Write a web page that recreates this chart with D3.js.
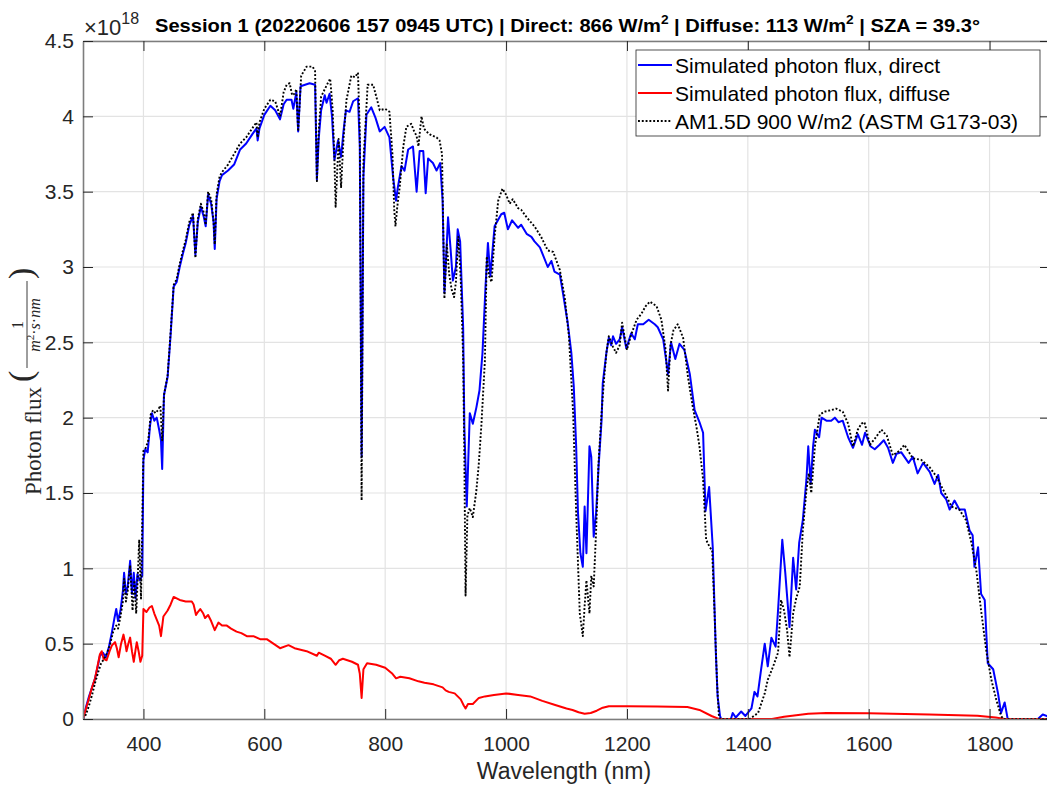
<!DOCTYPE html>
<html>
<head>
<meta charset="utf-8">
<script src="https://cdn.jsdelivr.net/npm/d3@7"></script>
<style>
  body { margin: 0; background: #fff; }
  svg { display: block; font-family: "Liberation Sans", Arial, sans-serif; }
</style>
</head>
<body>
<div id="chart"></div>
<script>
// [wavelength nm, photon flux x1e18]
const directFlux = [
  [300, 0], [305, 0.08], [310, 0.15], [315, 0.21], [320, 0.27], [325, 0.36], [328, 0.42], [333, 0.44],
  [338, 0.41], [343, 0.48], [348, 0.58], [352, 0.67], [355, 0.73], [358, 0.65], [362, 0.72], [366, 0.85],
  [368, 0.97], [371, 0.83], [374, 0.88], [378, 1.05], [381, 0.83], [384, 0.97], [387, 0.80], [390, 0.96],
  [394, 0.92], [398, 0.95], [400, 1.72], [403, 1.79], [407, 1.77], [411, 1.95], [414, 2.03], [418, 1.98],
  [422, 2.0], [426, 1.92], [429, 1.85], [431, 1.66], [434, 2.15], [440, 2.27], [445, 2.55], [450, 2.87],
  [455, 2.90], [460, 3.00], [466, 3.10], [470, 3.16], [476, 3.28], [482, 3.34], [486, 3.08], [490, 3.30],
  [495, 3.40], [500, 3.33], [503, 3.27], [507, 3.48], [512, 3.42], [516, 3.30], [518, 3.12], [521, 3.45],
  [526, 3.57], [530, 3.61], [540, 3.64], [550, 3.68], [560, 3.78], [570, 3.82], [580, 3.88], [587, 3.92],
  [589, 3.84], [592, 3.92], [600, 4.01], [610, 4.07], [618, 4.04], [626, 3.98], [632, 4.08], [637, 4.11],
  [645, 4.11], [648, 4.05], [653, 4.16], [656, 3.90], [660, 4.20], [675, 4.22], [684, 4.21], [687, 3.58],
  [690, 3.85], [694, 4.04], [700, 4.14], [703, 4.09], [708, 4.15], [712, 4.00], [716, 3.71], [722, 3.84],
  [727, 3.73], [731, 3.90], [735, 4.04], [741, 4.03], [747, 4.10], [755, 4.12], [758, 3.80], [761, 1.74],
  [764, 3.60], [769, 4.01], [777, 4.06], [784, 3.99], [791, 3.90], [799, 3.93], [807, 3.86], [813, 3.60],
  [818, 3.44], [821, 3.53], [827, 3.67], [832, 3.64], [838, 3.78], [846, 3.80], [852, 3.50], [857, 3.77],
  [863, 3.77], [867, 3.49], [871, 3.72], [879, 3.69], [885, 3.64], [891, 3.69], [895, 3.44], [898, 2.83],
  [904, 3.33], [908, 3.13], [912, 2.91], [917, 3.00], [920, 3.25], [924, 3.17], [929, 2.60], [931, 1.94],
  [935, 1.41], [940, 2.03], [945, 1.96], [951, 2.07], [956, 2.18], [961, 2.43], [966, 2.87], [970, 3.16],
  [974, 2.94], [981, 3.27], [992, 3.35], [997, 3.36], [1003, 3.25], [1010, 3.31], [1020, 3.26], [1025, 3.28],
  [1034, 3.22], [1042, 3.20], [1047, 3.17], [1056, 3.13], [1061, 3.08], [1069, 3.00], [1075, 3.04], [1080, 2.97],
  [1089, 2.95], [1094, 2.83], [1102, 2.63], [1108, 2.43], [1112, 2.21], [1116, 1.81], [1119, 1.37], [1123, 1.10],
  [1127, 1.01], [1130, 1.41], [1133, 1.10], [1138, 1.81], [1141, 1.74], [1145, 1.21], [1149, 1.37], [1153, 1.67],
  [1158, 1.98], [1160, 2.23], [1166, 2.43], [1170, 2.53], [1174, 2.48], [1177, 2.54], [1182, 2.49], [1188, 2.52],
  [1192, 2.60], [1199, 2.46], [1207, 2.56], [1213, 2.52], [1218, 2.62], [1227, 2.62], [1236, 2.65], [1246, 2.62],
  [1251, 2.60], [1260, 2.52], [1268, 2.29], [1273, 2.50], [1280, 2.39], [1287, 2.49], [1295, 2.45], [1304, 2.29],
  [1312, 2.05], [1320, 1.97], [1326, 1.90], [1330, 1.38], [1336, 1.54], [1342, 1.14], [1347, 0.45], [1350, 0.15],
  [1354, 0.02], [1356, 0], [1372, 0], [1375, 0.04], [1380, 0.01], [1389, 0.05], [1396, 0.02], [1406, 0.07],
  [1411, 0.18], [1416, 0.15], [1422, 0.33], [1428, 0.50], [1433, 0.35], [1439, 0.54], [1446, 0.48], [1450, 0.72],
  [1457, 1.19], [1462, 0.97], [1469, 0.61], [1475, 1.07], [1480, 0.86], [1485, 1.17], [1491, 1.32], [1497, 1.59],
  [1500, 1.81], [1504, 1.56], [1508, 1.81], [1511, 1.92], [1518, 1.87], [1522, 2.00], [1530, 1.98], [1538, 1.98],
  [1544, 2.00], [1550, 1.97], [1557, 1.98], [1566, 1.87], [1574, 1.80], [1582, 1.89], [1589, 1.82], [1594, 1.90],
  [1603, 1.81], [1610, 1.79], [1618, 1.82], [1625, 1.85], [1632, 1.80], [1640, 1.70], [1646, 1.76], [1654, 1.77],
  [1666, 1.70], [1673, 1.74], [1681, 1.63], [1690, 1.70], [1701, 1.64], [1709, 1.56], [1715, 1.62], [1720, 1.50],
  [1728, 1.46], [1734, 1.39], [1742, 1.45], [1750, 1.39], [1759, 1.39], [1767, 1.25], [1772, 1.22], [1775, 1.01],
  [1781, 1.14], [1786, 0.83], [1792, 0.79], [1797, 0.37], [1806, 0.33], [1814, 0.17], [1819, 0.04], [1825, 0.11],
  [1830, 0], [1880, 0], [1888, 0.03], [1895, 0.02], [1900, 0]
];

const diffuseFlux = [
  [300, 0], [305, 0.07], [310, 0.14], [315, 0.21], [320, 0.27], [325, 0.37], [328, 0.43], [331, 0.45],
  [334, 0.40], [339, 0.39], [344, 0.45], [348, 0.49], [353, 0.51], [356, 0.47], [359, 0.41], [363, 0.50],
  [367, 0.56], [370, 0.50], [372, 0.45], [375, 0.50], [378, 0.54], [381, 0.45], [384, 0.38], [387, 0.46],
  [389, 0.51], [392, 0.45], [395, 0.38], [398, 0.42], [400, 0.73], [405, 0.71], [410, 0.74], [414, 0.75],
  [418, 0.70], [422, 0.66], [426, 0.62], [429, 0.55], [433, 0.68], [440, 0.72], [445, 0.76], [450, 0.81],
  [460, 0.79], [470, 0.78], [480, 0.78], [483, 0.76], [487, 0.69], [490, 0.71], [494, 0.73], [499, 0.70],
  [502, 0.67], [507, 0.69], [512, 0.65], [518, 0.59], [524, 0.64], [530, 0.62], [538, 0.62], [545, 0.60],
  [554, 0.58], [562, 0.57], [571, 0.55], [582, 0.55], [593, 0.53], [604, 0.53], [615, 0.50], [626, 0.47],
  [640, 0.49], [650, 0.47], [660, 0.46], [670, 0.45], [687, 0.42], [690, 0.44], [700, 0.42], [710, 0.40],
  [718, 0.36], [724, 0.39], [730, 0.40], [745, 0.38], [755, 0.36], [758, 0.30], [761, 0.14], [764, 0.33],
  [770, 0.37], [785, 0.36], [800, 0.34], [812, 0.30], [818, 0.27], [825, 0.28], [840, 0.27], [855, 0.25],
  [865, 0.24], [880, 0.23], [895, 0.21], [900, 0.19], [905, 0.18], [915, 0.17], [925, 0.13], [930, 0.09],
  [933, 0.07], [937, 0.10], [945, 0.10], [955, 0.14], [965, 0.15], [980, 0.16], [1000, 0.17], [1020, 0.16],
  [1040, 0.15], [1060, 0.12], [1080, 0.095], [1100, 0.07], [1110, 0.06], [1120, 0.045], [1130, 0.035], [1140, 0.04],
  [1150, 0.055], [1160, 0.075], [1170, 0.085], [1200, 0.085], [1250, 0.083], [1300, 0.08], [1320, 0.06], [1340, 0.02],
  [1352, 0], [1440, 0], [1460, 0.015], [1480, 0.025], [1500, 0.035], [1530, 0.04], [1600, 0.038], [1700, 0.03],
  [1780, 0.022], [1810, 0.01], [1825, 0], [1900, 0]
];

const referenceFlux = [
  [300, 0], [305, 0.03], [310, 0.09], [315, 0.16], [320, 0.24], [325, 0.31], [330, 0.37], [335, 0.40],
  [340, 0.44], [345, 0.50], [350, 0.58], [355, 0.62], [358, 0.60], [362, 0.68], [366, 0.78], [368, 0.93],
  [371, 0.78], [374, 0.85], [378, 1.02], [382, 0.72], [385, 0.92], [388, 0.70], [390, 0.88], [393, 1.19],
  [396, 0.80], [398, 1.30], [400, 1.78], [404, 1.80], [408, 1.85], [412, 2.02], [416, 2.05], [420, 2.03],
  [424, 2.05], [428, 2.08], [431, 1.85], [434, 2.15], [440, 2.28], [445, 2.57], [450, 2.88], [455, 2.92],
  [460, 3.02], [466, 3.12], [470, 3.18], [476, 3.30], [482, 3.36], [486, 3.06], [490, 3.32], [495, 3.42],
  [500, 3.36], [503, 3.28], [507, 3.50], [512, 3.45], [516, 3.30], [518, 3.15], [521, 3.48], [526, 3.60],
  [530, 3.63], [540, 3.68], [550, 3.75], [560, 3.82], [570, 3.86], [580, 3.92], [587, 3.96], [589, 3.86],
  [592, 3.96], [600, 4.05], [610, 4.11], [618, 4.10], [626, 4.00], [632, 4.16], [637, 4.21], [642, 4.22],
  [646, 4.14], [650, 4.15], [653, 4.18], [656, 3.90], [661, 4.27], [670, 4.33], [680, 4.33], [684, 4.30],
  [687, 3.57], [690, 3.90], [694, 4.13], [700, 4.18], [705, 4.22], [709, 4.25], [713, 4.05], [716, 3.72],
  [718, 3.40], [723, 3.85], [727, 3.53], [731, 3.85], [736, 4.11], [744, 4.27], [750, 4.26], [755, 4.29],
  [758, 3.90], [761, 1.45], [764, 3.70], [771, 4.21], [780, 4.21], [786, 4.12], [791, 4.04], [800, 4.05],
  [807, 4.03], [812, 3.75], [815, 3.38], [817, 3.27], [820, 3.40], [824, 3.53], [830, 3.80], [835, 3.93],
  [843, 3.95], [848, 3.90], [852, 3.87], [855, 3.80], [860, 4.00], [864, 3.92], [868, 3.90], [874, 3.88],
  [879, 3.87], [885, 3.86], [890, 3.84], [894, 3.75], [898, 2.79], [902, 3.15], [906, 2.95], [910, 2.85],
  [914, 2.80], [917, 2.90], [921, 3.20], [925, 2.92], [929, 2.40], [931, 1.72], [933, 0.82], [936, 1.35],
  [940, 1.40], [945, 1.34], [951, 1.52], [955, 1.70], [959, 1.94], [965, 2.38], [968, 3.07], [972, 2.94],
  [976, 2.90], [981, 3.20], [987, 3.44], [994, 3.52], [1000, 3.48], [1006, 3.42], [1011, 3.45], [1020, 3.39],
  [1025, 3.38], [1034, 3.33], [1047, 3.27], [1058, 3.20], [1069, 3.11], [1078, 3.10], [1089, 2.98], [1097, 2.80],
  [1104, 2.54], [1111, 2.03], [1116, 1.37], [1122, 0.70], [1127, 0.55], [1130, 0.75], [1133, 0.92], [1138, 0.70],
  [1141, 0.95], [1145, 0.88], [1149, 1.25], [1153, 1.70], [1158, 2.03], [1162, 2.25], [1166, 2.43], [1170, 2.54],
  [1177, 2.47], [1182, 2.43], [1188, 2.48], [1192, 2.63], [1200, 2.45], [1207, 2.55], [1216, 2.65], [1224, 2.69],
  [1231, 2.74], [1238, 2.77], [1249, 2.74], [1257, 2.65], [1264, 2.45], [1268, 2.18], [1272, 2.48], [1277, 2.58],
  [1284, 2.62], [1293, 2.53], [1301, 2.27], [1309, 2.07], [1315, 1.94], [1320, 1.81], [1326, 1.59], [1331, 1.19],
  [1337, 1.14], [1341, 1.12], [1345, 0.70], [1349, 0.25], [1352, 0.03], [1354, 0], [1403, 0], [1417, 0.04],
  [1428, 0.17], [1433, 0.26], [1442, 0.35], [1450, 0.44], [1455, 0.79], [1460, 0.72], [1465, 0.59], [1469, 0.41],
  [1475, 0.70], [1480, 0.80], [1486, 0.88], [1491, 1.25], [1497, 1.52], [1501, 1.63], [1505, 1.50], [1511, 1.81],
  [1519, 2.02], [1527, 2.04], [1538, 2.05], [1546, 2.06], [1557, 2.04], [1566, 1.96], [1574, 1.81], [1582, 1.92],
  [1588, 1.96], [1593, 1.97], [1602, 1.82], [1610, 1.86], [1621, 1.92], [1630, 1.88], [1640, 1.75], [1651, 1.78],
  [1659, 1.82], [1673, 1.73], [1687, 1.72], [1701, 1.67], [1712, 1.61], [1726, 1.50], [1737, 1.41], [1750, 1.39],
  [1761, 1.32], [1770, 1.17], [1778, 0.99], [1786, 0.72], [1795, 0.44], [1803, 0.26], [1811, 0.13], [1819, 0.02],
  [1823, 0], [1900, 0]
];

const xTicks = [400, 600, 800, 1000, 1200, 1400, 1600, 1800];
const yTicks = [0, 0.5, 1, 1.5, 2, 2.5, 3, 3.5, 4, 4.5];
const legendNames = [
  "Simulated photon flux, direct",
  "Simulated photon flux, diffuse",
  "AM1.5D 900 W/m2 (ASTM G173-03)"
];

const series = [
  { name: legendNames[0], values: directFlux, color: "#0000ff", width: 2, dash: null },
  { name: legendNames[1], values: diffuseFlux, color: "#ff0000", width: 2, dash: null },
  { name: legendNames[2], values: referenceFlux, color: "#000000", width: 1.9, dash: "1.9,1.9" }
];

const W = 1047, H = 787;
const box = { left: 83, right: 1050, top: 41, bottom: 719 };

const svg = d3.select("#chart")
  .append("svg")
  .attr("width", W)
  .attr("height", H);

const x = d3.scaleLinear().domain([300, 1900]).range([box.left, box.right]);
const y = d3.scaleLinear().domain([0, 4.5]).range([box.bottom, box.top]);

// grid
svg.append("g")
  .selectAll("line")
  .data(xTicks)
  .enter()
  .append("line")
  .attr("x1", d => x(d)).attr("x2", d => x(d))
  .attr("y1", box.top).attr("y2", box.bottom)
  .attr("stroke", "#e3e3e3")
  .attr("stroke-width", 1.2);

svg.append("g")
  .selectAll("line")
  .data(yTicks)
  .enter()
  .append("line")
  .attr("x1", box.left).attr("x2", box.right)
  .attr("y1", d => y(d)).attr("y2", d => y(d))
  .attr("stroke", "#e3e3e3")
  .attr("stroke-width", 1.2);

svg.append("clipPath")
  .attr("id", "plotClip")
  .append("rect")
  .attr("x", box.left).attr("y", box.top - 2)
  .attr("width", box.right - box.left).attr("height", box.bottom - box.top + 2);

const line = d3.line()
  .x(d => x(d[0]))
  .y(d => y(d[1]));

// same order as the legend, so the dotted reference ends up on top
svg.append("g")
  .attr("clip-path", "url(#plotClip)")
  .selectAll("path")
  .data(series)
  .enter()
  .append("path")
  .attr("d", d => line(d.values))
  .attr("fill", "none")
  .attr("stroke", d => d.color)
  .attr("stroke-width", d => d.width)
  .attr("stroke-dasharray", d => d.dash)
  .attr("stroke-linejoin", "round");

// axes, ticks pointing in
const styleAxis = g => {
  g.select(".domain").attr("stroke", "#7d7d7d").attr("stroke-width", 1.6);
  g.selectAll(".tick line").attr("stroke", "#262626").attr("stroke-width", 1);
  g.selectAll(".tick text").attr("fill", "#262626").style("font-size", "21px")
    .style("font-family", "'Liberation Sans', Arial, sans-serif");
};

svg.append("g")
  .attr("transform", `translate(0,${box.bottom})`)
  .call(d3.axisBottom(x).tickValues(xTicks).tickSizeInner(-10).tickSizeOuter(0).tickPadding(17).tickFormat(d3.format("d")))
  .call(styleAxis);

svg.append("g")
  .attr("transform", `translate(0,${box.top})`)
  .call(d3.axisTop(x).tickValues(xTicks).tickSizeInner(-10).tickSizeOuter(0).tickFormat(""))
  .call(styleAxis);

svg.append("g")
  .attr("transform", `translate(${box.left},0)`)
  .call(d3.axisLeft(y).tickValues(yTicks).tickSizeInner(-10).tickSizeOuter(0).tickPadding(9).tickFormat(d3.format("")))
  .call(styleAxis);

svg.append("g")
  .attr("transform", `translate(${box.right},0)`)
  .call(d3.axisRight(y).tickValues(yTicks).tickSizeInner(-10).tickSizeOuter(0).tickFormat(""))
  .call(styleAxis);

// exponent
const expo = svg.append("text")
  .attr("x", 84).attr("y", 35)
  .attr("fill", "#262626")
  .style("font-size", "22px");
expo.append("tspan").text("×10");
expo.append("tspan").attr("dy", -11).style("font-size", "16px").text("18");

// title
const title = svg.append("text")
  .attr("x", 155).attr("y", 32)
  .attr("textLength", 825)
  .attr("lengthAdjust", "spacingAndGlyphs")
  .attr("fill", "#000")
  .style("font-size", "19px")
  .style("font-weight", "bold");
title.append("tspan").text("Session 1 (20220606 157 0945 UTC) | Direct: 866 W/m");
title.append("tspan").attr("dy", -8).style("font-size", "13px").text("2");
title.append("tspan").attr("dy", 8).text(" | Diffuse: 113 W/m");
title.append("tspan").attr("dy", -8).style("font-size", "13px").text("2");
title.append("tspan").attr("dy", 8).text(" | SZA = 39.3°");

// x label
svg.append("text")
  .attr("x", (box.left + 1047) / 2 - 1)
  .attr("y", 779)
  .attr("text-anchor", "middle")
  .attr("fill", "#262626")
  .style("font-size", "23px")
  .text("Wavelength (nm)");

// y label, latex-ish
const yLab = svg.append("g")
  .attr("transform", "translate(41,495) rotate(-90)")
  .attr("fill", "#262626")
  .style("font-family", "'Liberation Serif', 'Times New Roman', serif");

yLab.append("text").attr("x", 0).attr("y", 0).style("font-size", "23px").text("Photon flux");
yLab.append("text").attr("x", 113).attr("y", -9.5).style("font-size", "34px").text("(");
yLab.append("text").attr("x", 170).attr("y", -18).attr("text-anchor", "middle")
  .style("font-size", "16px").text("1");
yLab.append("line")
  .attr("x1", 127).attr("x2", 214).attr("y1", -14).attr("y2", -14)
  .attr("stroke", "#262626").attr("stroke-width", 0.9);
const den = yLab.append("text").attr("x", 170).attr("y", -1).attr("text-anchor", "middle")
  .style("font-size", "16px").style("font-style", "italic");
den.append("tspan").text("m");
den.append("tspan").attr("dy", -6).style("font-size", "11px").style("font-style", "normal").text("2");
den.append("tspan").attr("dy", 6).style("font-style", "normal").text("·");
den.append("tspan").text("s");
den.append("tspan").style("font-style", "normal").text("·");
den.append("tspan").text("nm");
yLab.append("text").attr("x", 216).attr("y", -9.5).style("font-size", "34px").text(")");

// legend
const legend = svg.append("g");
legend.append("rect")
  .attr("x", 636).attr("y", 50)
  .attr("width", 404).attr("height", 86)
  .attr("fill", "#fff")
  .attr("stroke", "#262626")
  .attr("stroke-width", 0.8);

const legendRows = legend.selectAll("g.row")
  .data(series)
  .enter()
  .append("g")
  .attr("class", "row")
  .attr("transform", (d, i) => `translate(0,${65 + i * 28})`);

legendRows.append("line")
  .attr("x1", 638).attr("x2", 672)
  .attr("stroke", d => d.color)
  .attr("stroke-width", d => d.width)
  .attr("stroke-dasharray", d => d.dash);

legendRows.append("text")
  .attr("x", 675).attr("y", 7.5)
  .attr("fill", "#000")
  .style("font-size", "21px")
  .text(d => d.name);
</script>
</body>
</html>
